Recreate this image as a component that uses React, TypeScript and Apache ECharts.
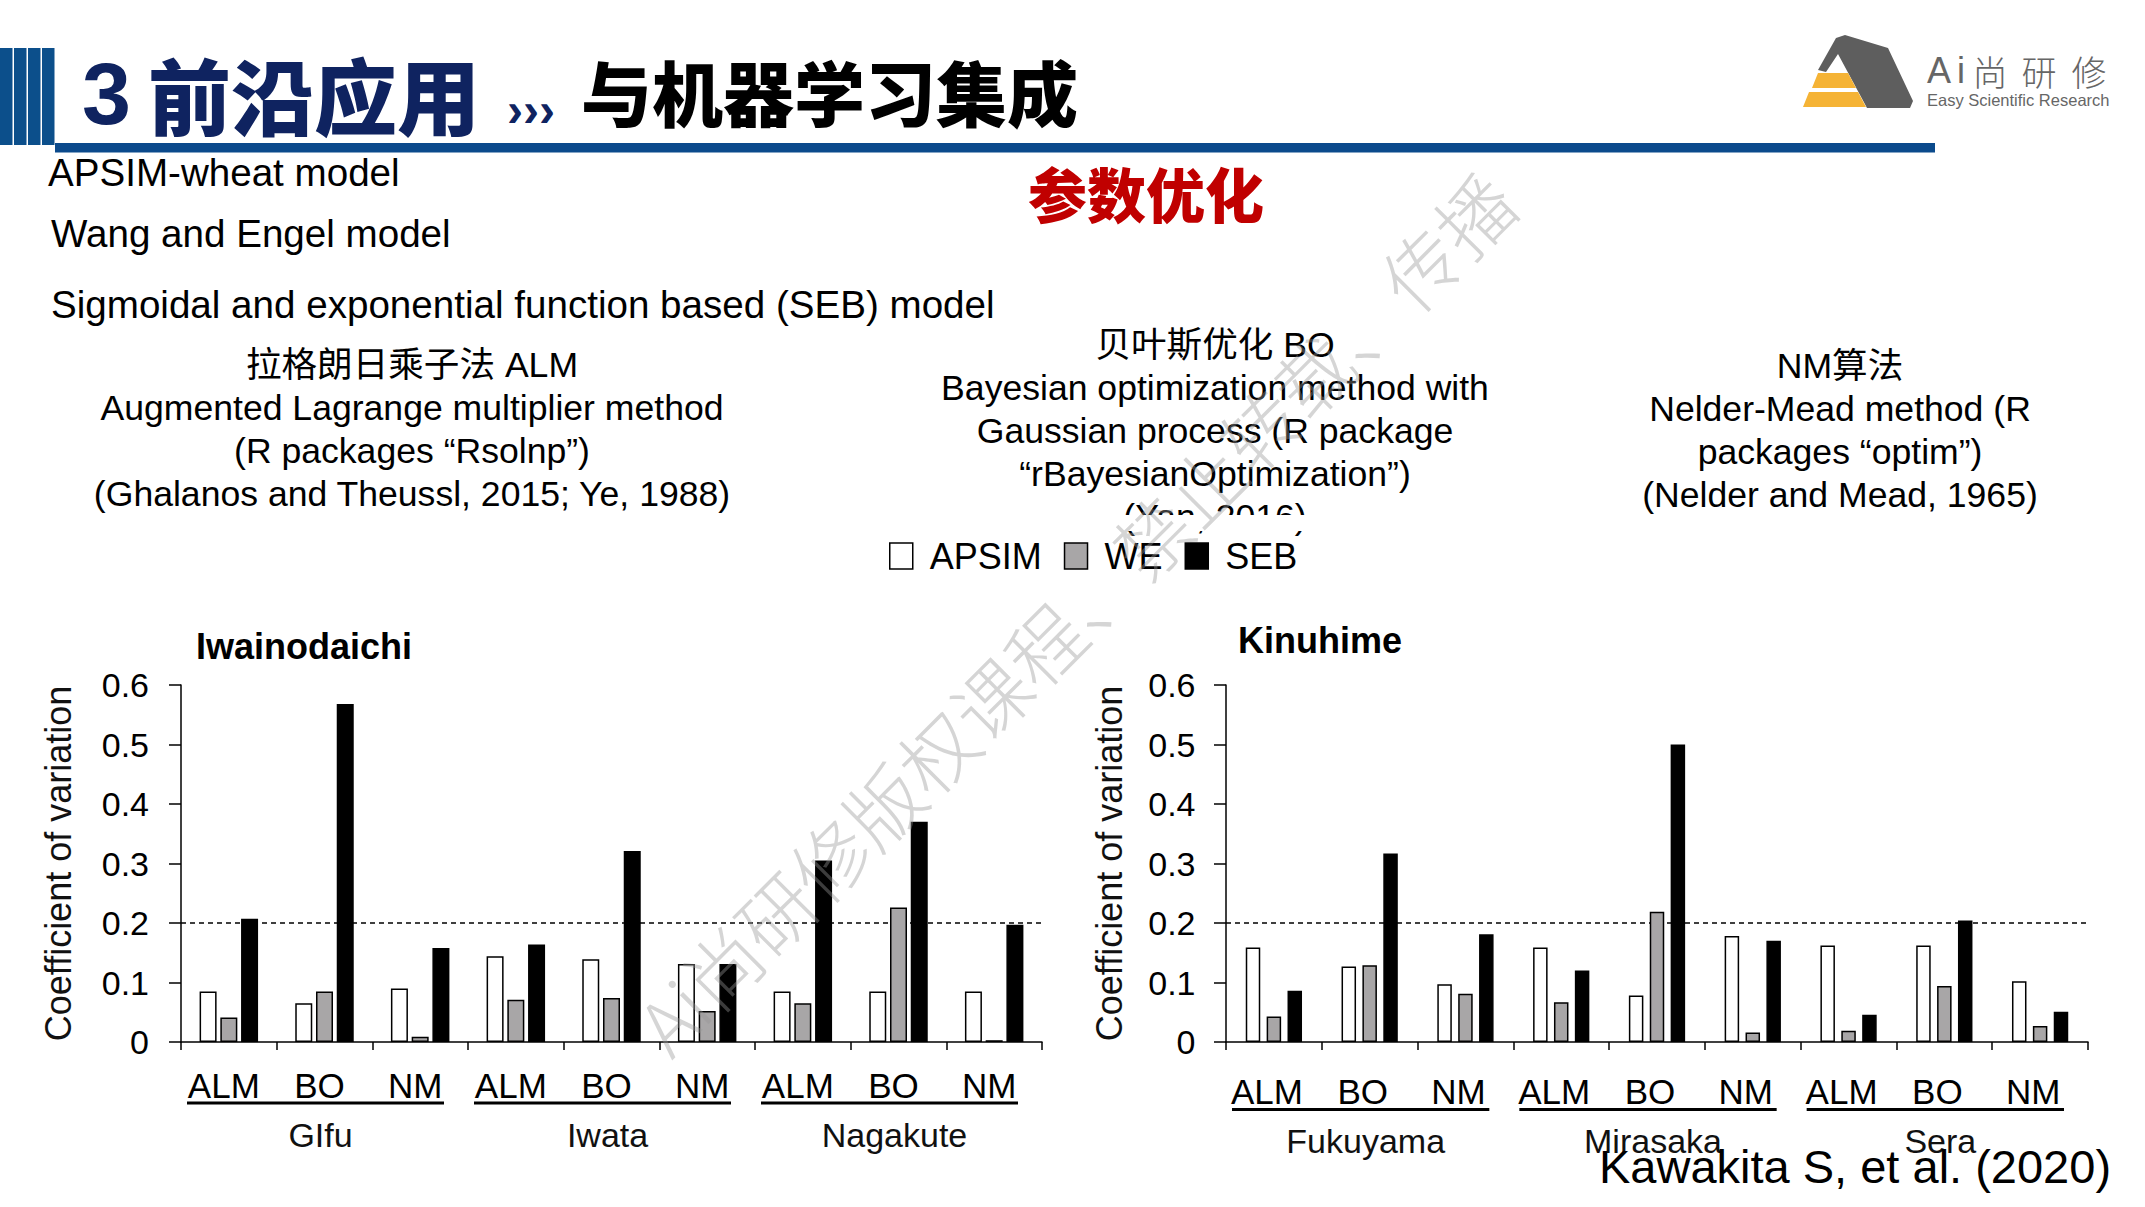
import React, { useEffect, useRef } from "react";
import * as echarts from "echarts";

// ---------------- data ----------------
const methods = ["ALM", "BO", "NM", "ALM", "BO", "NM", "ALM", "BO", "NM"];
const sitesIwainodaichi = ["GIfu", "Iwata", "Nagakute"];
const sitesKinuhime = ["Fukuyama", "Mirasaka", "Sera"];
const modelNames = ["APSIM", "WE", "SEB"];

// Iwainodaichi (left panel)
const iwaAPSIM = [0.085, 0.065, 0.09, 0.144, 0.139, 0.131, 0.085, 0.085, 0.085];
const iwaWE = [0.041, 0.085, 0.009, 0.071, 0.074, 0.052, 0.065, 0.226, 0.003];
const iwaSEB = [0.207, 0.568, 0.158, 0.164, 0.321, 0.131, 0.305, 0.37, 0.197];

// Kinuhime (right panel)
const kinAPSIM = [0.159, 0.127, 0.097, 0.159, 0.078, 0.178, 0.162, 0.162, 0.102];
const kinWE = [0.043, 0.129, 0.081, 0.067, 0.219, 0.016, 0.019, 0.094, 0.027];
const kinSEB = [0.086, 0.317, 0.181, 0.12, 0.5, 0.17, 0.046, 0.204, 0.051];

const threshold = 0.2;
const yMin = 0;
const yMax = 0.6;
const yStep = 0.1;

// ---------------- styles ----------------
const LAT = '"Liberation Sans", Arial, sans-serif';
const CJK = '"Noto Sans CJK SC", sans-serif';
const MIX = '"Liberation Sans", "Noto Sans CJK SC", sans-serif';
const NAVY = "#0f2360";
const BLUE = "#0b4a8c";
const GREY_BAR = "#a8a6a7";

const GRID_L = { left: 181, top: 685, width: 861, height: 357 };
const GRID_R = { left: 1226, top: 685, width: 862, height: 357 };

function txt(text: string, x: number, y: number, o: any = {}) {
  return {
    type: "text",
    x,
    y,
    z: o.z ?? 5,
    rotation: o.rotation ?? 0,
    style: {
      text,
      fill: o.fill ?? "#000",
      fontSize: o.fontSize ?? 35.6,
      fontFamily: o.fontFamily ?? MIX,
      fontWeight: o.fontWeight ?? "normal",
      align: o.align ?? "left",
      verticalAlign: "middle",
    },
  };
}

function underlines(grid: any, y: number) {
  const slot = grid.width / 9;
  const out: any[] = [];
  for (let g = 0; g < 3; g++) {
    out.push({
      type: "line",
      z: 5,
      shape: {
        x1: grid.left + g * 3 * slot + 6,
        y1: y,
        x2: grid.left + (g + 1) * 3 * slot - 24,
        y2: y,
      },
      style: { stroke: "#000", lineWidth: 3.2 },
    });
  }
  return out;
}

function barSeries(
  name: string,
  data: number[],
  color: string,
  xi: number,
  yi: number,
  bw: number,
  gap: string,
  withLine: boolean
) {
  const s: any = {
    type: "bar",
    name,
    xAxisIndex: xi,
    yAxisIndex: yi,
    data,
    barWidth: bw,
    barGap: gap,
    z: 2,
    emphasis: { disabled: true },
    itemStyle: { color, borderColor: "#000", borderWidth: 1.5 },
  };
  if (withLine) {
    s.markLine = {
      silent: true,
      z: 1,
      symbol: ["none", "none"],
      label: { show: false },
      lineStyle: { type: [5, 4], color: "#000", width: 1.5 },
      data: [{ yAxis: threshold }],
    };
  }
  return s;
}

function yAxisCfg(gridIndex: number, nameGap: number, margin: number) {
  return {
    type: "value",
    gridIndex,
    min: yMin,
    max: yMax,
    interval: yStep,
    name: "Coefficient of variation",
    nameLocation: "middle",
    nameRotate: 90,
    nameGap,
    nameTextStyle: { fontSize: 36, color: "#111", fontFamily: LAT },
    axisLine: { show: true, lineStyle: { color: "#000", width: 1.5 } },
    axisTick: { show: true, length: 12, lineStyle: { color: "#000", width: 1.5 } },
    splitLine: { show: false },
    axisLabel: {
      fontSize: 34,
      color: "#000",
      fontFamily: LAT,
      margin,
      formatter: (v: number) => (v === 0 ? "0" : v.toFixed(1)),
    },
  };
}

function methodAxis(gridIndex: number, margin: number, pad: number) {
  return {
    type: "category",
    gridIndex,
    data: methods,
    position: "bottom",
    axisLine: { show: true, lineStyle: { color: "#000", width: 1.5 } },
    axisTick: { show: true, interval: 0, length: 8, lineStyle: { color: "#000", width: 1.5 } },
    axisLabel: {
      interval: 0,
      fontSize: 35,
      color: "#000",
      fontFamily: LAT,
      margin,
      padding: [0, pad, 0, 0],
    },
  };
}

function siteAxis(gridIndex: number, sites: string[], offset: number) {
  return {
    type: "category",
    gridIndex,
    data: sites,
    position: "bottom",
    offset,
    axisLine: { show: false },
    axisTick: { show: false },
    splitLine: { show: false },
    axisLabel: {
      interval: 0,
      fontSize: 34,
      color: "#111",
      fontFamily: LAT,
      margin: 8,
      padding: [0, 8, 0, 0],
    },
  };
}

export default function App() {
  const ref = useRef<HTMLDivElement>(null);

  useEffect(() => {
    if (!ref.current) return;
    const chart = echarts.init(ref.current, null, { renderer: "svg" });

    const graphic: any[] = [
      // header stripes
      ...[0, 14, 28, 42].map((x) => ({
        type: "rect",
        z: 3,
        shape: { x, y: 48, width: 12.5, height: 97 },
        style: { fill: "#0c4f8b" },
      })),
      {
        type: "rect",
        z: 3,
        shape: { x: 55, y: 143, width: 1880, height: 9.5 },
        style: { fill: BLUE },
      },
      txt("3", 82, 93, { fontSize: 88, fontWeight: "bold", fontFamily: LAT, fill: NAVY }),
      txt("前沿应用", 148, 93, { fontSize: 83, fontWeight: 900, fontFamily: CJK, fill: NAVY }),
      txt("›››", 507, 109, { fontSize: 48, fontWeight: "bold", fontFamily: LAT, fill: NAVY }),
      txt("与机器学习集成", 581, 90, { fontSize: 71, fontWeight: 900, fontFamily: CJK, fill: "#000" }),

      // logo
      {
        type: "polygon",
        z: 3,
        shape: {
          points: [
            [1818, 70], [1836, 38], [1845, 35], [1888, 48], [1913, 101],
            [1910, 108], [1867, 108], [1838, 54], [1826, 72],
          ],
        },
        style: { fill: "#5e5e5e" },
      },
      {
        type: "polygon",
        z: 3,
        shape: { points: [[1818, 73], [1848, 73], [1856, 88], [1812, 88]] },
        style: { fill: "#f5b335" },
      },
      {
        type: "polygon",
        z: 3,
        shape: { points: [[1809, 92], [1858, 92], [1866, 107], [1803, 107]] },
        style: { fill: "#f5b335" },
      },
      txt("A", 1939, 70, { fontSize: 36, fontFamily: LAT, fill: "#666", align: "center" }),
      txt("i", 1961, 70, { fontSize: 36, fontFamily: LAT, fill: "#666", align: "center" }),
      txt("尚", 1990, 70, { fontSize: 35, fontFamily: CJK, fontWeight: 300, fill: "#666", align: "center" }),
      txt("研", 2039, 70, { fontSize: 35, fontFamily: CJK, fontWeight: 300, fill: "#666", align: "center" }),
      txt("修", 2089, 70, { fontSize: 35, fontFamily: CJK, fontWeight: 300, fill: "#666", align: "center" }),
      txt("Easy Scientific Research", 1927, 100, { fontSize: 16.5, fontFamily: LAT, fill: "#666" }),

      // model names
      txt("APSIM-wheat model", 48, 172, { fontSize: 38.6, fontFamily: LAT }),
      txt("Wang and Engel model", 51, 233, { fontSize: 38.6, fontFamily: LAT }),
      txt("Sigmoidal and exponential function based (SEB) model", 51, 304, { fontSize: 38.6, fontFamily: LAT }),
      txt("参数优化", 1146, 192, { fontSize: 59, fontWeight: 900, fontFamily: CJK, fill: "#c00000", align: "center" }),

      // ALM block
      txt("拉格朗日乘子法 ALM", 412, 365, { align: "center" }),
      txt("Augmented Lagrange multiplier method", 412, 408, { align: "center" }),
      txt("(R packages “Rsolnp”)", 412, 451, { align: "center" }),
      txt("(Ghalanos and Theussl, 2015; Ye, 1988)", 412, 494, { align: "center" }),

      // BO block
      txt("贝叶斯优化 BO", 1215, 345, { align: "center" }),
      txt("Bayesian optimization method with", 1215, 388, { align: "center" }),
      txt("Gaussian process (R package", 1215, 431, { align: "center" }),
      txt("“rBayesianOptimization”)", 1215, 474, { align: "center" }),
      txt("(Yan, 2016)", 1215, 517, { align: "center" }),
      {
        type: "rect",
        z: 6,
        shape: { x: 1100, y: 515, width: 240, height: 16 },
        style: { fill: "#fff" },
      },

      // NM block
      txt("NM算法", 1840, 366, { align: "center" }),
      txt("Nelder-Mead method (R", 1840, 409, { align: "center" }),
      txt("packages “optim”)", 1840, 452, { align: "center" }),
      txt("(Nelder and Mead, 1965)", 1840, 495, { align: "center" }),

      // panel titles
      txt("Iwainodaichi", 196, 646, { fontSize: 36, fontWeight: "bold", fontFamily: LAT }),
      txt("Kinuhime", 1238, 640, { fontSize: 36, fontWeight: "bold", fontFamily: LAT }),

      // site underlines
      ...underlines(GRID_L, 1103),
      ...underlines(GRID_R, 1109.5),

      // citation
      txt("Kawakita S, et al. (2020)", 1599, 1166, { fontSize: 47, fontFamily: LAT, z: 8 }),

      // watermark
      txt("Ai尚研修版权课程、禁止转载、传播", 1074, 612, {
        fontSize: 76,
        fontFamily: CJK,
        fontWeight: 300,
        fill: "rgba(150,150,150,0.4)",
        align: "center",
        rotation: Math.PI / 4,
        z: 50,
      }),
    ];

    const option: any = {
      animation: false,
      backgroundColor: "#fff",
      textStyle: { fontFamily: LAT },
      legend: {
        data: modelNames,
        left: 884,
        top: 533,
        icon: "rect",
        itemWidth: 23,
        itemHeight: 26,
        itemGap: 22,
        selectedMode: false,
        itemStyle: { borderColor: "#000", borderWidth: 1.5 },
        textStyle: { fontSize: 36, color: "#000", fontFamily: LAT, padding: [0, 0, 0, 12] },
      },
      grid: [
        { ...GRID_L, containLabel: false },
        { ...GRID_R, containLabel: false },
      ],
      xAxis: [
        methodAxis(0, 26, 10),
        siteAxis(0, sitesIwainodaichi, 68),
        methodAxis(1, 32, 14),
        siteAxis(1, sitesKinuhime, 74),
      ],
      yAxis: [yAxisCfg(0, 105, 32), yAxisCfg(1, 99, 30.5)],
      series: [
        barSeries(modelNames[0], iwaAPSIM, "#fff", 0, 0, 17, "22%", true),
        barSeries(modelNames[1], iwaWE, GREY_BAR, 0, 0, 17, "22%", false),
        barSeries(modelNames[2], iwaSEB, "#000", 0, 0, 17, "22%", false),
        barSeries(modelNames[0], kinAPSIM, "#fff", 2, 1, 14.5, "44%", true),
        barSeries(modelNames[1], kinWE, GREY_BAR, 2, 1, 14.5, "44%", false),
        barSeries(modelNames[2], kinSEB, "#000", 2, 1, 14.5, "44%", false),
      ],
      graphic: { elements: graphic },
    };

    chart.setOption(option);
    return () => chart.dispose();
  }, []);

  return (
    <div
      ref={ref}
      style={{ position: "absolute", left: 0, top: 0, width: 2145, height: 1207, background: "#fff" }}
    />
  );
}
